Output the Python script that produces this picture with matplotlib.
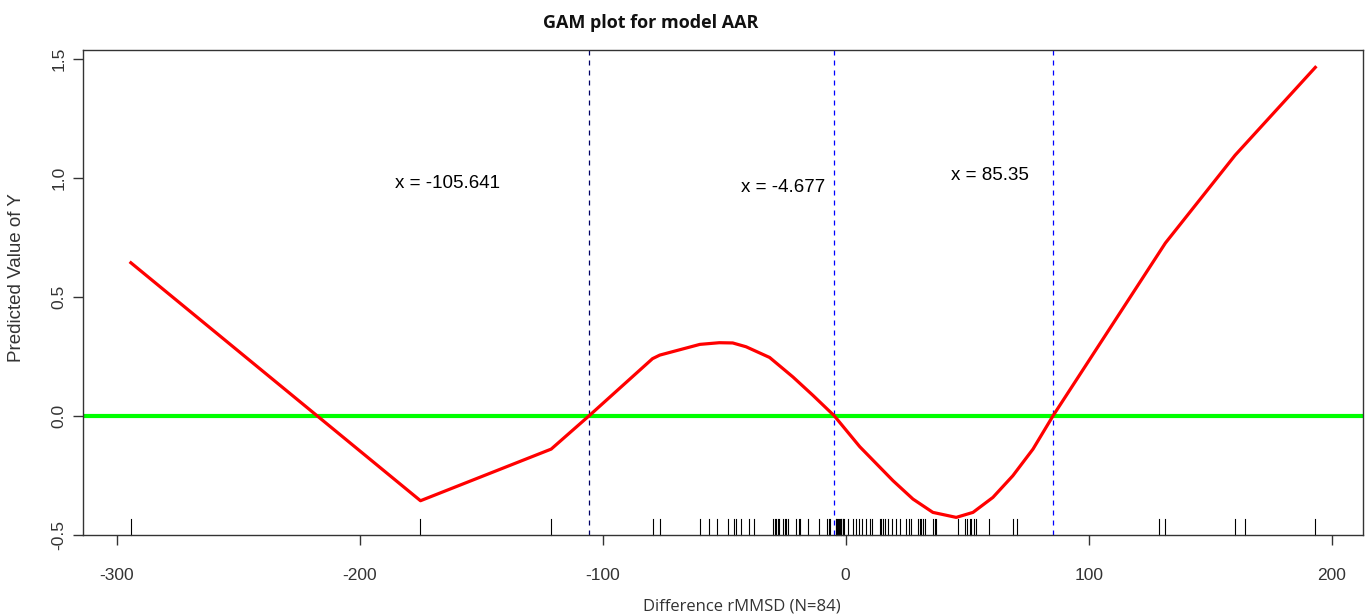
import matplotlib
matplotlib.use("Agg")
import matplotlib.pyplot as plt
import matplotlib.transforms as mtransforms

# ---- data ----
curve_x = [-294.2, -175.0, -121.2, -105.6, -79.5, -76.5, -60.0, -52.0, -46.5, -41.0,
           -31.3, -21.7, -13.5, -4.7, 5.8, 19.5, 27.7, 35.9, 45.5, 52.4,
           60.6, 68.8, 77.1, 85.35, 131.6, 160.3, 193.3]
curve_y = [0.643, -0.357, -0.140, 0.0, 0.240, 0.255, 0.300, 0.307, 0.306, 0.290,
           0.245, 0.163, 0.086, 0.0, -0.130, -0.273, -0.350, -0.406, -0.427, -0.406,
           -0.343, -0.252, -0.140, 0.0, 0.726, 1.095, 1.464]

rug_x = [-294.2, -175.0, -121.2, -79.5, -76.5, -59.8, -56.3, -53.0, -48.4, -46.1,
         -45.3, -42.9, -39.8, -37.9, -29.9, -29.2, -28.5, -27.9, -27.4, -25.8,
         -25.1, -24.4, -23.7, -20.3, -19.2, -18.6, -15.5, -11.0, -7.7, -6.9,
         -6.3, -4.1, -3.9, -3.7, -3.3, -2.9, -2.5, -2.0, -1.9, -1.2,
         -0.9, -0.6, 0.9, 3.0, 4.1, 5.5, 6.9, 8.5, 10.2, 11.0,
         14.0, 14.7, 15.3, 16.0, 17.4, 19.2, 20.6, 22.5, 24.7, 26.0,
         27.0, 29.8, 30.5, 31.2, 31.8, 32.5, 35.9, 36.6, 37.3, 46.2,
         49.0, 49.9, 51.0, 51.7, 52.7, 53.5, 59.0, 68.7, 70.5, 128.8,
         131.6, 160.3, 164.4, 193.3]

crossings = [-105.641, -4.677, 85.35]
crossing_labels = ["x = -105.641", "x = -4.677", "x = 85.35"]

x_ticks = [-300, -200, -100, 0, 100, 200]
y_ticks = [-0.5, 0.0, 0.5, 1.0, 1.5]
y_tick_labels = ["-0.5", "0.0", "0.5", "1.0", "1.5"]

title = "GAM plot for model AAR"
x_label = "Difference rMMSD (N=84)"
y_label = "Predicted Value of Y"

# ---- figure ----
W, H = 1368, 614
fig = plt.figure(figsize=(W / 100, H / 100), dpi=100)
ax = fig.add_axes([83 / W, 1 - 535 / H, (1362.7 - 83) / W, (535 - 50) / H])

ax.set_xlim(-313.9, 212.8)
ax.set_ylim(-0.501, 1.537)

# zero reference line
ax.axhline(0, color="#00ff00", lw=3.0, zorder=2)

# vertical dashed lines at crossings
line_colors = ["#000066", "blue", "blue"]
for cx, lc in zip(crossings, line_colors):
    ax.axvline(cx, color=lc, lw=0.9, linestyle=(0, (4, 4)), zorder=1)

# fitted curve
ax.plot(curve_x, curve_y, color="red", lw=2.3, zorder=3, solid_joinstyle="round")

# rug
trans = mtransforms.blended_transform_factory(ax.transData, ax.transAxes)
for rx in rug_x:
    ax.plot([rx, rx], [0, 0.032], color="black", lw=0.8, transform=trans,
            zorder=2, clip_on=False)

# annotations
label_pos = [(-164.0, 0.978), (-25.7, 0.961), (59.3, 1.011)]
for (lx, ly), txt in zip(label_pos, crossing_labels):
    ax.text(lx, ly, txt, ha="center", va="center", fontsize=13.5,
            family="Liberation Sans", color="black")

# axes styling
for sp in ax.spines.values():
    sp.set_color("#333333")
    sp.set_linewidth(1.0)

ax.set_xticks(x_ticks)
ax.set_xticklabels([str(t) for t in x_ticks], family="Liberation Sans",
                   fontsize=12.5, color="#333333")
ax.set_yticks(y_ticks)
ax.set_yticklabels(y_tick_labels, family="Liberation Sans", fontsize=12.5,
                   color="#333333", rotation=90, va="center")
ax.tick_params(axis="both", direction="out", length=7, width=1, color="#333333")
ax.tick_params(axis="x", pad=17)
ax.tick_params(axis="y", pad=5)

ax.set_xlabel(x_label, family="Open Sans", fontsize=12, color="#333333")
ax.xaxis.set_label_coords(0.515, -0.13)
ax.set_ylabel(y_label, family="Liberation Sans", fontsize=13.5, color="#333333")
ax.yaxis.set_label_coords(-0.045, 0.53)

fig.text(651 / W, 1 - 23 / H, title, ha="center", va="center",
         family="Open Sans", fontweight="bold", fontsize=13, color="#111111")

fig.savefig("out.png", dpi=100)
